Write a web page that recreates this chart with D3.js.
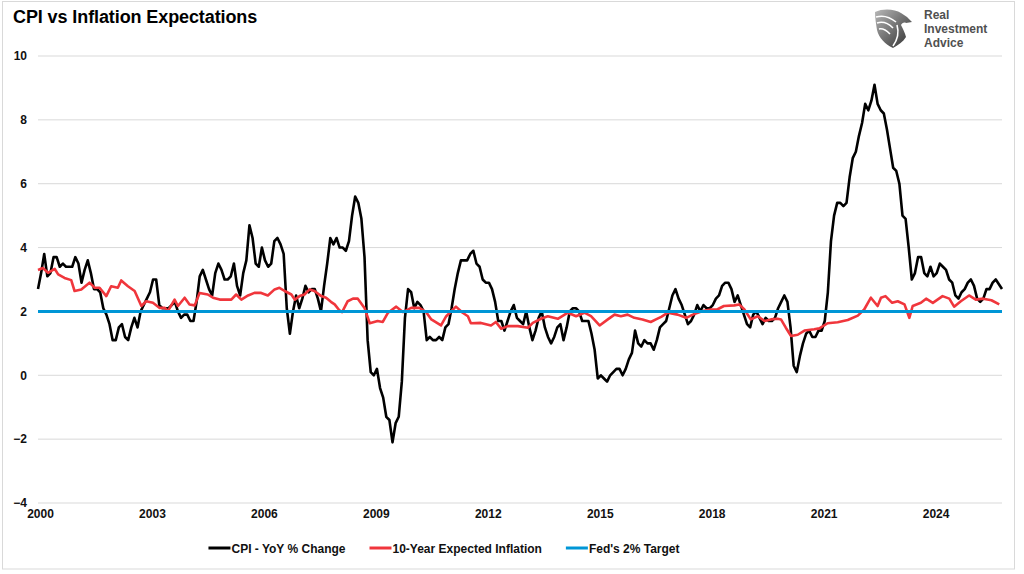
<!DOCTYPE html>
<html>
<head>
<meta charset="utf-8">
<script src="https://cdn.jsdelivr.net/npm/d3@7.9.0/dist/d3.min.js"></script>
<style>
  html, body { margin: 0; padding: 0; background: #fff; }
  svg { display: block; font-family: "Liberation Sans", Arial, sans-serif; }
</style>
</head>
<body>
<svg id="chart" width="1024" height="574"></svg>
<script>
// ---------- Data ----------
// CPI YoY % change, monthly from Jan 2000 (null = no release, Oct 2025)
const cpiYoY = [
  2.7, 3.2, 3.8, 3.1, 3.2, 3.7, 3.7, 3.4, 3.5, 3.4, 3.4, 3.4,
  3.7, 3.5, 2.9, 3.3, 3.6, 3.2, 2.7, 2.7, 2.6, 2.1, 1.9, 1.6,
  1.1, 1.1, 1.5, 1.6, 1.2, 1.1, 1.5, 1.8, 1.5, 2.0, 2.2, 2.4,
  2.6, 3.0, 3.0, 2.2, 2.1, 2.1, 2.1, 2.2, 2.3, 2.0, 1.8, 1.9,
  1.9, 1.7, 1.7, 2.3, 3.1, 3.3, 3.0, 2.7, 2.5, 3.2, 3.5, 3.3,
  3.0, 3.0, 3.1, 3.5, 2.8, 2.5, 3.2, 3.6, 4.7, 4.3, 3.5, 3.4,
  4.0, 3.6, 3.4, 3.5, 4.2, 4.3, 4.1, 3.8, 2.1, 1.3, 2.0, 2.5,
  2.1, 2.4, 2.8, 2.6, 2.7, 2.7, 2.4, 2.0, 2.8, 3.5, 4.3, 4.1,
  4.3, 4.0, 4.0, 3.9, 4.2, 5.0, 5.6, 5.4, 4.9, 3.7, 1.1, 0.1,
  0.0, 0.2, -0.4, -0.7, -1.3, -1.4, -2.1, -1.5, -1.3, -0.2, 1.8, 2.7,
  2.6, 2.1, 2.3, 2.2, 2.0, 1.1, 1.2, 1.1, 1.1, 1.2, 1.1, 1.5,
  1.6, 2.1, 2.7, 3.2, 3.6, 3.6, 3.6, 3.8, 3.9, 3.5, 3.4, 3.0,
  2.9, 2.9, 2.7, 2.3, 1.7, 1.7, 1.4, 1.7, 2.0, 2.2, 1.8, 1.7,
  1.6, 2.0, 1.5, 1.1, 1.4, 1.8, 2.0, 1.5, 1.2, 1.0, 1.2, 1.5,
  1.6, 1.1, 1.5, 2.0, 2.1, 2.1, 2.0, 1.7, 1.7, 1.7, 1.3, 0.8,
  -0.1, 0.0, -0.1, -0.2, 0.0, 0.1, 0.2, 0.2, 0.0, 0.2, 0.5, 0.7,
  1.4, 1.0, 0.9, 1.1, 1.0, 1.0, 0.8, 1.1, 1.5, 1.6, 1.7, 2.1,
  2.5, 2.7, 2.4, 2.2, 1.9, 1.6, 1.7, 1.9, 2.2, 2.0, 2.2, 2.1,
  2.1, 2.2, 2.4, 2.5, 2.8, 2.9, 2.9, 2.7, 2.3, 2.5, 2.2, 1.9,
  1.6, 1.5, 1.9, 2.0, 1.8, 1.6, 1.8, 1.7, 1.7, 1.8, 2.1, 2.3,
  2.5, 2.3, 1.5, 0.3, 0.1, 0.6, 1.0, 1.3, 1.4, 1.2, 1.2, 1.4,
  1.4, 1.7, 2.6, 4.2, 5.0, 5.4, 5.4, 5.3, 5.4, 6.2, 6.8, 7.0,
  7.5, 7.9, 8.5, 8.3, 8.6, 9.1, 8.5, 8.3, 8.2, 7.7, 7.1, 6.5,
  6.4, 6.0, 5.0, 4.9, 4.0, 3.0, 3.2, 3.7, 3.7, 3.2, 3.1, 3.4,
  3.1, 3.2, 3.5, 3.4, 3.3, 3.0, 2.9, 2.5, 2.4, 2.6, 2.7, 2.9,
  3.0, 2.8, 2.4, 2.3, 2.4, 2.7, 2.7, 2.9, 3.0, null, 2.7
];

// 10-year expected inflation (decimal year, %)
const expYears = [
  2000.00, 2000.13, 2000.27, 2000.45, 2000.54, 2000.71, 2000.89, 2000.98, 2001.16, 2001.38,
  2001.52, 2001.65, 2001.83, 2001.96, 2002.14, 2002.23, 2002.41, 2002.59, 2002.77, 2002.90,
  2003.08, 2003.26, 2003.40, 2003.48, 2003.66, 2003.75, 2003.93, 2004.06, 2004.20, 2004.33,
  2004.55, 2004.69, 2004.87, 2005.00, 2005.18, 2005.31, 2005.45, 2005.63, 2005.80, 2005.98,
  2006.16, 2006.34, 2006.47, 2006.61, 2006.79, 2006.88, 2007.01, 2007.14, 2007.28, 2007.41,
  2007.59, 2007.72, 2007.85, 2007.95, 2008.08, 2008.15, 2008.30, 2008.44, 2008.57, 2008.75,
  2008.89, 2009.10, 2009.24, 2009.38, 2009.60, 2009.78, 2010.00, 2010.22, 2010.40, 2010.54,
  2010.80, 2010.94, 2011.20, 2011.38, 2011.52, 2011.60, 2011.87, 2012.14, 2012.27, 2012.41,
  2012.59, 2012.86, 2013.13, 2013.26, 2013.48, 2013.66, 2013.93, 2014.20, 2014.42, 2014.64,
  2014.82, 2015.05, 2015.27, 2015.45, 2015.62, 2015.80, 2015.98, 2016.20, 2016.42, 2016.56,
  2016.70, 2016.88, 2017.14, 2017.37, 2017.55, 2017.81, 2018.03, 2018.20, 2018.38, 2018.66,
  2018.79, 2018.93, 2019.10, 2019.29, 2019.47, 2019.64, 2019.82, 2019.91, 2020.04, 2020.18,
  2020.36, 2020.54, 2020.80, 2020.94, 2021.16, 2021.43, 2021.70, 2021.97, 2022.14, 2022.32,
  2022.50, 2022.59, 2022.71, 2022.89, 2023.04, 2023.22, 2023.35, 2023.44, 2023.66, 2023.80,
  2023.98, 2024.24, 2024.42, 2024.55, 2024.73, 2024.95, 2025.13, 2025.33, 2025.55, 2025.76
];
const expValues = [
  3.30, 3.36, 3.21, 3.33, 3.16, 3.05, 2.98, 2.64, 2.69, 2.90,
  2.74, 2.74, 2.48, 2.79, 2.74, 2.97, 2.79, 2.64, 2.17, 2.32,
  2.27, 2.11, 2.11, 2.01, 2.37, 2.17, 2.43, 2.22, 2.19, 2.58,
  2.53, 2.43, 2.37, 2.37, 2.37, 2.53, 2.37, 2.50, 2.58, 2.58,
  2.50, 2.69, 2.74, 2.64, 2.53, 2.37, 2.48, 2.53, 2.69, 2.64,
  2.48, 2.43, 2.30, 2.22, 2.03, 1.98, 2.32, 2.40, 2.40, 2.11,
  1.63, 1.70, 1.67, 1.96, 2.15, 1.98, 2.11, 2.11, 1.98, 1.75,
  1.56, 1.85, 2.15, 1.96, 1.85, 1.63, 1.64, 1.56, 1.67, 1.46,
  1.54, 1.54, 1.49, 1.64, 1.77, 1.85, 1.77, 1.96, 1.85, 1.96,
  1.85, 1.56, 1.75, 1.90, 1.85, 1.90, 1.80, 1.75, 1.67, 1.75,
  1.83, 1.96, 1.90, 1.80, 1.90, 2.01, 2.06, 2.06, 2.17, 2.19,
  2.22, 2.06, 1.75, 1.85, 1.70, 1.75, 1.77, 1.75, 1.49, 1.23,
  1.27, 1.40, 1.44, 1.47, 1.63, 1.66, 1.73, 1.87, 2.06, 2.43,
  2.17, 2.43, 2.48, 2.27, 2.32, 2.22, 1.80, 2.17, 2.27, 2.40,
  2.27, 2.48, 2.40, 2.15, 2.32, 2.50, 2.37, 2.40, 2.35, 2.22
];

const fedTarget = 2;
const yTicks = [-4, -2, 0, 2, 4, 6, 8, 10];
const xTicks = [2000, 2003, 2006, 2009, 2012, 2015, 2018, 2021, 2024];

const seriesNames = ["CPI - YoY % Change", "10-Year Expected Inflation", "Fed's 2% Target"];
const seriesColors = ["#000000", "#f0363c", "#0096d6"];

// ---------- Setup ----------
const svg = d3.select("#chart");

const x = d3.scaleLinear().domain([2000, 2025 + 10 / 12]).range([38, 1002]);
const y = d3.scaleLinear().domain([-4, 10]).range([503, 56]);

const cpiData = cpiYoY
  .map((v, i) => ({ t: 2000 + i / 12, v }))
  .filter((d) => d.v !== null);
const expData = expYears.map((t, i) => ({ t, v: expValues[i] }));

// outer frame
svg.append("rect")
  .attr("x", 2.5).attr("y", 1.5)
  .attr("width", 1012).attr("height", 567.5)
  .attr("fill", "none").attr("stroke", "#d9d9d9");

// title
svg.append("text")
  .attr("x", 13).attr("y", 23)
  .attr("font-size", 18).attr("font-weight", "bold")
  .attr("fill", "#000")
  .attr("letter-spacing", -0.1)
  .text("CPI vs Inflation Expectations");

// ---------- Gridlines + axes ----------
svg.append("g")
  .selectAll("line")
  .data(yTicks)
  .join("line")
  .attr("x1", x.range()[0]).attr("x2", x.range()[1])
  .attr("y1", (d) => y(d)).attr("y2", (d) => y(d))
  .attr("stroke", "#d9d9d9").attr("stroke-width", 1);

const yAxis = svg.append("g")
  .attr("transform", "translate(30,0)")
  .call(d3.axisLeft(y).tickValues(yTicks).tickSize(0).tickPadding(3));
yAxis.select(".domain").remove();
yAxis.selectAll("text")
  .attr("font-size", 12).attr("font-weight", "bold")
  .attr("font-family", "Liberation Sans, Arial, sans-serif")
  .attr("fill", "#111");

const xAxis = svg.append("g")
  .attr("transform", "translate(2,503)")
  .call(d3.axisBottom(x).tickValues(xTicks).tickFormat(d3.format("d")).tickSize(0).tickPadding(6));
xAxis.select(".domain").remove();
xAxis.selectAll("text")
  .attr("font-size", 12).attr("font-weight", "bold")
  .attr("font-family", "Liberation Sans, Arial, sans-serif")
  .attr("fill", "#111");

// ---------- Lines ----------
const line = d3.line().x((d) => x(d.t)).y((d) => y(d.v));

svg.append("path")
  .datum(cpiData)
  .attr("d", line)
  .attr("fill", "none")
  .attr("stroke", seriesColors[0])
  .attr("stroke-width", 2.6)
  .attr("stroke-linejoin", "round");

svg.append("path")
  .datum(expData)
  .attr("d", line)
  .attr("fill", "none")
  .attr("stroke", seriesColors[1])
  .attr("stroke-width", 2.6)
  .attr("stroke-linejoin", "round");

svg.append("path")
  .datum([{ t: x.domain()[0], v: fedTarget }, { t: x.domain()[1], v: fedTarget }])
  .attr("d", line)
  .attr("fill", "none")
  .attr("stroke", seriesColors[2])
  .attr("stroke-width", 3);

// ---------- Legend ----------
const legend = svg.append("g");
let lx = 0;
seriesNames.forEach((name, i) => {
  const g = legend.append("g").attr("transform", `translate(${lx},0)`);
  g.append("line")
    .attr("x1", 0).attr("x2", 22)
    .attr("y1", 548).attr("y2", 548)
    .attr("stroke", seriesColors[i]).attr("stroke-width", 3);
  const t = g.append("text")
    .attr("x", 23).attr("y", 552.5)
    .attr("font-size", 12).attr("font-weight", "bold")
    .attr("fill", "#111")
    .text(name);
  lx += 23 + t.node().getComputedTextLength() + 24;
});
lx -= 24;
legend.attr("transform", `translate(${444 - lx / 2},0)`);

// ---------- Logo ----------
const defs = svg.append("defs");
const grad = defs.append("linearGradient")
  .attr("id", "eagleGrad")
  .attr("x1", "0").attr("y1", "0").attr("x2", "1").attr("y2", "1");
grad.append("stop").attr("offset", "0%").attr("stop-color", "#b8b8b8");
grad.append("stop").attr("offset", "55%").attr("stop-color", "#6a6a6a");
grad.append("stop").attr("offset", "100%").attr("stop-color", "#2e2e2e");

const logo = svg.append("g").attr("transform", "translate(873,8)");
logo.append("path")
  .attr("d", "M2,4 C10,0 22,1 28,5 L34,9 L39,14 L33,15 C31,14 29,15 28,17 C30,21 32,25 33,29 C30,34 25,37 20,40 C12,36 6,30 4,22 C3,16 2,10 2,4 Z")
  .attr("fill", "url(#eagleGrad)");
logo.append("g")
  .attr("fill", "none").attr("stroke", "#fff").attr("stroke-width", 1.6)
  .selectAll("path")
  .data([
    "M3,9 C10,7 17,9 23,14",
    "M4,15 C10,13 15,15 20,20",
    "M6,21 C10,20 13,22 17,26",
    "M24,17 C26,24 25,31 20,38"
  ])
  .join("path")
  .attr("d", (d) => d);

// logo wordmark: three stacked lines, spaced so their boxes don't touch
const logoWords = ["Real", "Investment", "Advice"];
svg.append("g")
  .attr("font-size", 12).attr("font-weight", "bold")
  .attr("fill", "#505050")
  .selectAll("text")
  .data(logoWords)
  .join("text")
  .attr("x", 924)
  .attr("y", (d, i) => 19 + i * 14)
  .text((d) => d);
</script>
</body>
</html>
